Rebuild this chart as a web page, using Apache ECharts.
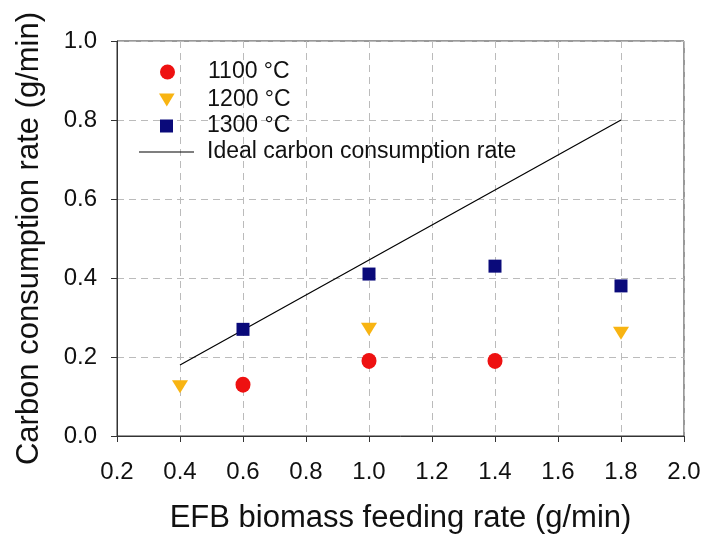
<!DOCTYPE html>
<html><head><meta charset="utf-8">
<script src="https://cdn.jsdelivr.net/npm/echarts@6/dist/echarts.min.js"></script>
<style>html,body{margin:0;padding:0;background:#fff}#c{width:706px;height:544px}</style>
</head><body><div id="c"></div>
<script>
const xTicks = [0.2,0.4,0.6,0.8,1.0,1.2,1.4,1.6,1.8,2.0];
const yTicks = [0.0,0.2,0.4,0.6,0.8,1.0];
const s1100 = [[0.6,0.13],[1.0,0.19],[1.4,0.19]];
const s1200 = [[0.4,0.125],[1.0,0.27],[1.8,0.26]];
const s1300 = [[0.6,0.27],[1.0,0.41],[1.4,0.43],[1.8,0.38]];
const ideal = [[0.4,0.18],[1.8,0.8]];
const names = ['1100 °C','1200 °C','1300 °C','Ideal carbon consumption rate'];
const xTitle = 'EFB biomass feeding rate (g/min)';
const yTitle = 'Carbon consumption rate (g/min)';

const tri = 'path://M0,0 L12,0 L6,10 Z';
const sq = 'path://M0,0 L10,0 L10,10 L0,10 Z';
const lineIcon = 'path://M0,0 L55,0 L55,1.2 L0,1.2 Z';
const font = 'Liberation Sans, Arial, sans-serif';
const legTxt = {fontFamily:font,fontSize:23,lineHeight:24,color:'#111',padding:[0,0,0,8]};
function leg(name, icon, h, left, top){
  return {orient:'vertical', left:left, top:top, padding:0, itemWidth:55, itemHeight:h,
    textStyle:legTxt, data:[{name:name, icon:icon}]};
}
const chart = echarts.init(document.getElementById('c'));
chart.setOption({
  animation:false,
  backgroundColor:'#fff',
  grid:{left:117,right:22,top:41,bottom:108,show:true,borderColor:'#333',borderWidth:1,backgroundColor:'transparent'},
  legend:[
    leg(names[0],'circle',15,160,60),
    leg(names[1],tri,13,159,88),
    leg(names[2],sq,13,160,114),
    leg(names[3],lineIcon,16,139,140)
  ],
  xAxis:{
    type:'value', min:xTicks[0], max:xTicks[xTicks.length-1], interval:0.2,
    name:xTitle, nameLocation:'middle', nameGap:67,
    nameTextStyle:{fontFamily:font,fontSize:31,color:'#111'},
    axisLine:{show:true,lineStyle:{color:'#333'}},
    axisTick:{show:true,length:6,lineStyle:{color:'#333'}},
    axisLabel:{fontFamily:font,fontSize:24,color:'#111',margin:24,formatter:v=>v.toFixed(1)},
    splitLine:{show:true,lineStyle:{color:'#bbb',type:[7,5]}}
  },
  yAxis:{
    type:'value', min:yTicks[0], max:yTicks[yTicks.length-1], interval:0.2,
    name:yTitle, nameLocation:'middle', nameGap:72,
    nameTextStyle:{fontFamily:font,fontSize:31,color:'#111'},
    axisLine:{show:true,lineStyle:{color:'#333'}},
    axisTick:{show:true,length:6,lineStyle:{color:'#333'}},
    axisLabel:{fontFamily:font,fontSize:24,color:'#111',margin:20,formatter:v=>v.toFixed(1)},
    splitLine:{show:true,lineStyle:{color:'#bbb',type:[7,5]}}
  },
  series:[
    {name:names[3],type:'line',data:ideal,symbol:'none',lineStyle:{color:'#000',width:1.2},itemStyle:{color:'#000'},z:1},
    {name:names[0],type:'scatter',data:s1100,symbol:'circle',symbolSize:[15,16],itemStyle:{color:'#ee1111',opacity:1},z:3},
    {name:names[1],type:'scatter',data:s1200,symbol:tri,symbolSize:[16,13],itemStyle:{color:'#f8b412',opacity:1},z:3},
    {name:names[2],type:'scatter',data:s1300,symbol:sq,symbolSize:13,itemStyle:{color:'#0a0a7a',opacity:1},z:3}
  ]
});
</script></body></html>
